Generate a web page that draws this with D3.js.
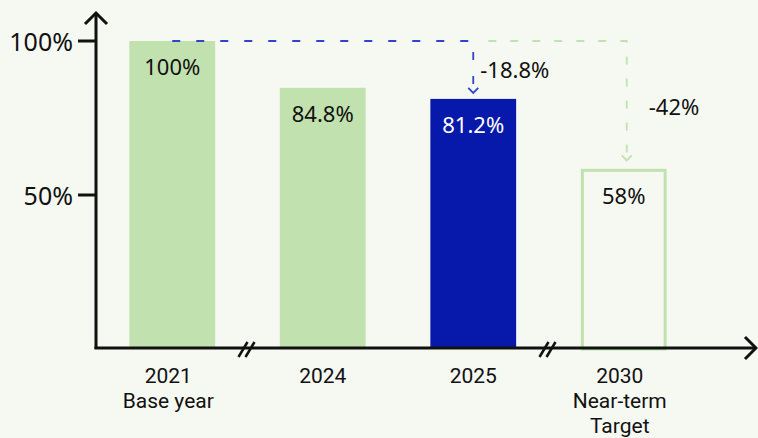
<!DOCTYPE html>
<html>
<head>
<meta charset="utf-8">
<script src="https://cdn.jsdelivr.net/npm/d3@7"></script>
<style>
  html, body { margin: 0; padding: 0; background: #f6f9f1; }
  svg { display: block; font-family: "Noto Sans", "Open Sans", sans-serif; }
</style>
</head>
<body>
<svg id="chart" width="758" height="438"></svg>
<script>
// Emissions index relative to the 2021 base year
const categories = ["2021", "2024", "2025", "2030"];
const subLabels = [["Base year"], [], [], ["Near-term", "Target"]];
const values = [100, 84.8, 81.2, 58];
const valueLabels = ["100%", "84.8%", "81.2%", "58%"];
const tickValues = [50, 100];
const tickLabels = ["50%", "100%"];
// Reduction callouts measured from the base year
const reductionTargets = ["2025", "2030"];
const reductionLabels = ["-18.8%", "-42%"];

const GREEN = "#c1e2ae";
const BLUE = "#0619aa";
const BLUE_DASH = "#3344c4";
const INK = "#111111";

const svg = d3.select("#chart");
const axisX = 96, baseY = 349;

const x = d3.scaleBand()
  .domain(categories)
  .range([97, 699])
  .paddingInner(0.43)
  .paddingOuter(0.215);

const y = d3.scaleLinear().domain([0, 100]).range([baseY, 41]);

// Bars
const bars = svg.append("g");
categories.forEach((c, i) => {
  const x0 = x(c), w = x.bandwidth();
  if (c === "2030") {
    bars.append("rect")
      .attr("x", x0 + 1.5).attr("y", y(values[i]))
      .attr("width", w - 3).attr("height", baseY - y(values[i]))
      .attr("fill", "none").attr("stroke", GREEN).attr("stroke-width", 3);
  } else {
    bars.append("rect")
      .attr("x", x0).attr("y", y(values[i]))
      .attr("width", w).attr("height", baseY - y(values[i]))
      .attr("fill", c === "2025" ? BLUE : GREEN);
  }
  bars.append("text")
    .attr("x", x0 + w / 2).attr("y", y(values[i]) + 34)
    .attr("text-anchor", "middle")
    .attr("font-size", 22)
    .attr("fill", c === "2025" ? "#ffffff" : INK)
    .text(valueLabels[i]);
});

// Reduction arrows
const topY = y(values[0]);
const startX = x(categories[0]) + x.bandwidth() / 2;
const arrows = svg.append("g").attr("fill", "none");
reductionTargets.forEach((t, k) => {
  const idx = categories.indexOf(t);
  const cx = x(t) + x.bandwidth() / 2 + (k === 1 ? 3 : 0);
  const endY = y(values[idx]) - (k === 1 ? 10 : 6);
  const color = k === 0 ? BLUE_DASH : GREEN;
  const sx = k === 0 ? startX : x(reductionTargets[0]) + x.bandwidth() / 2 + 15;
  arrows.append("path")
    .attr("d", `M${sx},${topY}H${cx}V${endY - 1}`)
    .attr("stroke", color).attr("stroke-width", 1.8)
    .attr("stroke-dasharray", k === 0 ? "8,16" : "8,14");
  arrows.append("path")
    .attr("d", `M${cx - 5},${endY - 5}L${cx},${endY}L${cx + 5},${endY - 5}`)
    .attr("stroke", color).attr("stroke-width", 1.8);
  svg.append("text")
    .attr("x", cx + (k === 0 ? 7 : 22))
    .attr("y", topY + (k === 0 ? 37 : 74))
    .attr("font-size", 22).attr("fill", INK)
    .text(reductionLabels[k]);
});

// Axes
const axes = svg.append("g").attr("stroke", INK).attr("stroke-width", 3).attr("fill", "none");
axes.append("path").attr("d", `M${axisX},${baseY}V13`);
axes.append("path").attr("d", `M${axisX - 11},24L${axisX},13L${axisX + 11},24`);
axes.append("path").attr("d", `M${axisX - 1.5},${baseY - 1}H755`);
axes.append("path").attr("d", `M745,337L756,${baseY - 1}L745,359`);

// Y ticks
tickValues.forEach((v, i) => {
  axes.append("line").attr("x1", 78).attr("x2", axisX).attr("y1", y(v)).attr("y2", y(v));
  svg.append("text")
    .attr("x", 73).attr("y", y(v) + 10)
    .attr("text-anchor", "end").attr("font-size", 25).attr("fill", INK)
    .text(tickLabels[i]);
});

// Axis breaks between non-consecutive years
[[0, 1], [2, 3]].forEach(([a, b]) => {
  const mid = (x(categories[a]) + x.bandwidth() + x(categories[b])) / 2 - 3;
  [0, 7].forEach(dx => {
    axes.append("line")
      .attr("x1", mid - 6 + dx).attr("y1", baseY + 8)
      .attr("x2", mid + 3 + dx).attr("y2", baseY - 7)
      .attr("stroke-width", 2.5);
  });
});

// Category labels, one text element per line
const catLabels = svg.append("g")
  .attr("text-anchor", "middle").attr("font-size", 21).attr("fill", INK)
  .style("font-family", "Roboto, 'Noto Sans', sans-serif");
categories.forEach((c, i) => {
  const cx = x(c) + x.bandwidth() / 2 - (subLabels[i].length ? 4 : 0);
  [c].concat(subLabels[i]).forEach((line, j) => {
    catLabels.append("text")
      .attr("x", cx).attr("y", 383 + j * 24.8)
      .text(line);
  });
});
</script>
</body>
</html>
